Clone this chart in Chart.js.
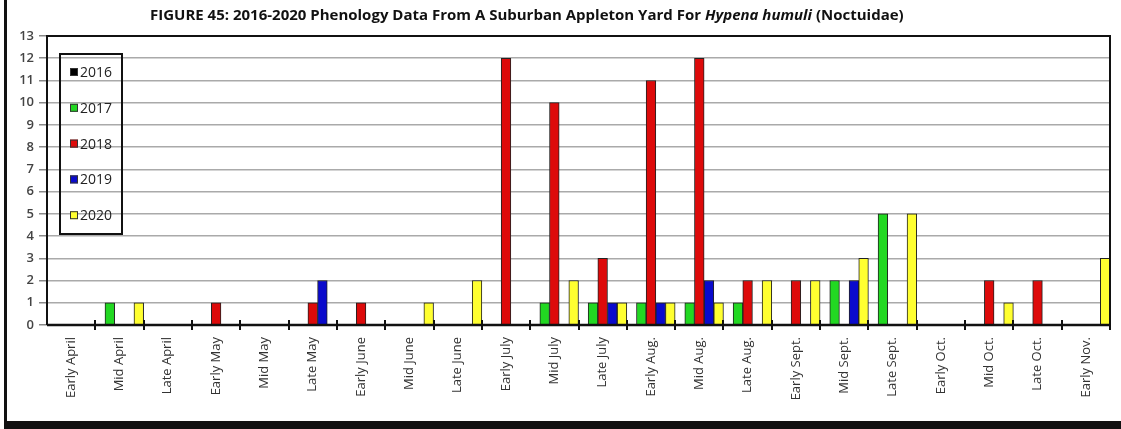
<!DOCTYPE html>
<html>
<head>
<meta charset="utf-8">
<script src="https://cdn.jsdelivr.net/npm/chart.js@4"></script>
<style>
    html, body { margin: 0; padding: 0; background: #fff; }
    #wrap { position: relative; width: 1121px; height: 429px; }
    #title {
        position: absolute; left: 150px; top: 4px; white-space: nowrap;
        font-family: 'Open Sans', sans-serif; font-weight: bold; font-size: 15px; color: #111;
    }
</style>
</head>
<body>
<div id="wrap">
    <canvas id="phenologyChart" width="1121" height="429"></canvas>
    <div id="title">FIGURE 45: 2016-2020 Phenology Data From A Suburban Appleton Yard For <i>Hypena humuli</i> (Noctuidae)</div>
</div>
<script>
const categories = ['Early April', 'Mid April', 'Late April', 'Early May', 'Mid May', 'Late May',
    'Early June', 'Mid June', 'Late June', 'Early July', 'Mid July', 'Late July',
    'Early Aug.', 'Mid Aug.', 'Late Aug.', 'Early Sept.', 'Mid Sept.', 'Late Sept.',
    'Early Oct.', 'Mid Oct.', 'Late Oct.', 'Early Nov.'];

const years = ['2016', '2017', '2018', '2019', '2020'];

const counts2016 = [0, 0, 0, 0, 0, 0, 0, 0, 0, 0, 0, 0, 0, 0, 0, 0, 0, 0, 0, 0, 0, 0];
const counts2017 = [0, 1, 0, 0, 0, 0, 0, 0, 0, 0, 1, 1, 1, 1, 1, 0, 2, 5, 0, 0, 0, 0];
const counts2018 = [0, 0, 0, 1, 0, 1, 1, 0, 0, 12, 10, 3, 11, 12, 2, 2, 0, 0, 0, 2, 2, 0];
const counts2019 = [0, 0, 0, 0, 0, 2, 0, 0, 0, 0, 0, 1, 1, 2, 0, 0, 2, 0, 0, 0, 0, 0];
const counts2020 = [0, 1, 0, 0, 0, 0, 0, 1, 2, 0, 2, 1, 1, 1, 2, 2, 3, 5, 0, 1, 0, 3];

const yTicks = [0, 1, 2, 3, 4, 5, 6, 7, 8, 9, 10, 11, 12, 13];

const yearColors = ['#000000', '#22d822', '#dd0a0a', '#0a0acc', '#ffff30'];
const allCounts = [counts2016, counts2017, counts2018, counts2019, counts2020];

// Marco, borde del área de trazado y leyenda dibujados a mano
const framePlugin = {
    id: 'framePlugin',
    beforeDraw(chart) {
        const ctx = chart.ctx;
        ctx.save();
        ctx.fillStyle = '#fff';
        ctx.fillRect(0, 0, chart.width, chart.height);
        ctx.restore();
    },
    afterDraw(chart) {
        const ctx = chart.ctx;
        const a = chart.chartArea;
        ctx.save();
        // plot border
        ctx.strokeStyle = '#111';
        ctx.lineWidth = 2;
        ctx.beginPath();
        ctx.moveTo(a.left, a.bottom);
        ctx.lineTo(a.left, a.top);
        ctx.lineTo(a.right, a.top);
        ctx.lineTo(a.right, a.bottom);
        ctx.stroke();
        // zero axis
        ctx.lineWidth = 2.5;
        ctx.beginPath();
        ctx.moveTo(a.left, a.bottom);
        ctx.lineTo(a.right, a.bottom);
        ctx.stroke();
        // category tick marks crossing the axis
        ctx.lineWidth = 2;
        const step = (a.right - a.left) / categories.length;
        for (let i = 1; i <= categories.length; i++) {
            const px = Math.round(a.left + step * i);
            ctx.beginPath();
            ctx.moveTo(px, a.bottom - 5);
            ctx.lineTo(px, a.bottom + 5);
            ctx.stroke();
        }
        // legend box
        ctx.lineWidth = 2;
        ctx.strokeRect(60, 54, 62, 180);
        ctx.font = '14px "Open Sans", sans-serif';
        ctx.textBaseline = 'middle';
        chart.data.datasets.forEach((ds, i) => {
            const cy = 72 + i * 35.8;
            ctx.fillStyle = ds.backgroundColor;
            ctx.fillRect(70, cy - 4, 8, 8);
            ctx.lineWidth = 1;
            ctx.strokeStyle = '#333';
            ctx.strokeRect(70.5, cy - 3.5, 7, 7);
            ctx.fillStyle = '#222';
            ctx.fillText(ds.label, 80, cy + 1);
        });
        // outer frame
        ctx.fillStyle = '#111';
        ctx.fillRect(4, 0, 3, 429);
        ctx.fillRect(4, 421, 1117, 8);
        ctx.restore();
    }
};

new Chart(document.getElementById('phenologyChart'), {
    type: 'bar',
    data: {
        labels: categories,
        datasets: years.map((y, i) => ({
            label: y,
            data: allCounts[i],
            backgroundColor: yearColors[i],
            borderColor: '#222',
            borderWidth: 1,
            borderSkipped: 'bottom',
            categoryPercentage: 1.0,
            barPercentage: 1.0
        }))
    },
    options: {
        responsive: false,
        animation: false,
        layout: { padding: { top: 36, right: 11, left: 0, bottom: 0 } },
        plugins: {
            legend: { display: false },
            tooltip: { enabled: false }
        },
        scales: {
            x: {
                grid: { display: false, drawTicks: false },
                border: { display: false },
                ticks: {
                    color: '#333',
                    font: { family: 'Open Sans', size: 13 },
                    minRotation: 90,
                    maxRotation: 90,
                    padding: 12,
                    autoSkip: false
                },
                afterFit(scale) { scale.height = 104; }
            },
            y: {
                min: 0,
                max: 13,
                afterBuildTicks(scale) { scale.ticks = yTicks.map(v => ({ value: v })); },
                grid: { color: '#aaa', lineWidth: 1.5, tickLength: 8, tickColor: '#888' },
                border: { display: false },
                ticks: {
                    color: '#444',
                    font: { family: 'Open Sans', size: 13, weight: '600' },
                    padding: 5
                },
                afterFit(scale) { scale.width = 47; }
            }
        }
    },
    plugins: [framePlugin]
});
</script>
</body>
</html>
